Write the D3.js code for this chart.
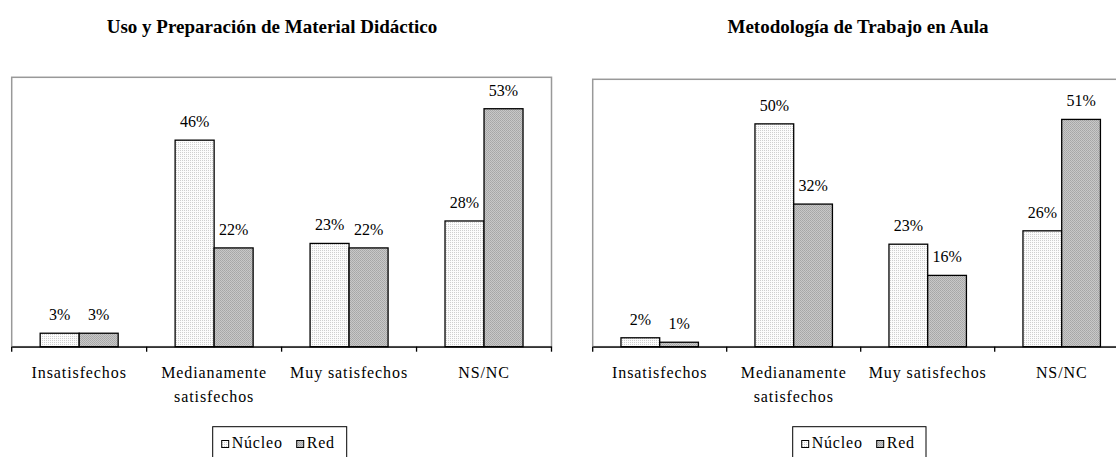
<!DOCTYPE html>
<html><head><meta charset="utf-8">
<script src="https://cdn.jsdelivr.net/npm/d3@7"></script>
<style>
body{margin:0;background:#fff}
svg{display:block}
text{font-family:"Liberation Serif","Times New Roman",serif;fill:#000}
</style>
</head><body>
<svg id="c" width="1116" height="457"></svg>
<script>
// ---- data ----
const categories = ["Insatisfechos", "Medianamente satisfechos", "Muy satisfechos", "NS/NC"];
const categoryLines = [["Insatisfechos"], ["Medianamente", "satisfechos"], ["Muy satisfechos"], ["NS/NC"]];
const seriesNames = ["Núcleo", "Red"];
const chartTitles = ["Uso y Preparación de Material Didáctico", "Metodología de Trabajo en Aula"];
const materialNucleo = [3, 46, 23, 28];
const materialRed = [3, 22, 22, 53];
const metodologiaNucleo = [2, 50, 23, 26];
const metodologiaRed = [1, 32, 16, 51];
const yMax = 60;

const svg = d3.select("#c");
const defs = svg.append("defs");
// dotted light pattern (Núcleo)
const p1 = defs.append("pattern").attr("id","patN").attr("patternUnits","userSpaceOnUse").attr("width",2).attr("height",2);
p1.append("rect").attr("width",2).attr("height",2).attr("fill","#fcfcfc");
p1.append("rect").attr("width",1).attr("height",1).attr("fill","#cfcfcf");
// grey hatch pattern (Red)
const p2 = defs.append("pattern").attr("id","patR").attr("patternUnits","userSpaceOnUse").attr("width",2).attr("height",2);
p2.append("rect").attr("width",2).attr("height",2).attr("fill","#c8c8c8");
p2.append("rect").attr("width",1).attr("height",1).attr("fill","#a6a6a6");
p2.append("rect").attr("x",1).attr("y",1).attr("width",1).attr("height",1).attr("fill","#acacac");
const fills = {"Núcleo":"url(#patN)","Red":"url(#patR)"};

const panels = [
  {title: chartTitles[0], values: [materialNucleo, materialRed], x0: 11.7, x1: 551.5, top: 77.3, base: 346.7, titleX: 272, titleY: 33, legX: 212.7, legW: 134},
  {title: chartTitles[1], values: [metodologiaNucleo, metodologiaRed], x0: 592.7, x1: 1128.7, top: 79.3, base: 346.7, titleX: 858, titleY: 33, legX: 792.7, legW: 133.3}
];

panels.forEach(p => {
  const g = svg.append("g");
  const x = d3.scaleBand().domain(categories).range([p.x0, p.x1]).padding(0);
  const xs = d3.scaleBand().domain(seriesNames).range([0, x.bandwidth()]).paddingInner(0).paddingOuter(0.73);
  const y = d3.scaleLinear().domain([0, yMax]).range([p.base, p.top]);

  // title
  g.append("text").attr("x", p.titleX).attr("y", p.titleY).attr("text-anchor","middle")
    .style("font-size","19px").style("font-weight","bold").text(p.title);

  // frame
  g.append("rect").attr("x", p.x0).attr("y", p.top).attr("width", p.x1 - p.x0).attr("height", p.base - p.top)
    .attr("fill","none").attr("stroke","#999").attr("stroke-width",1.5);

  // bars
  seriesNames.forEach((s, si) => {
    const vals = p.values[si];
    g.selectAll(null).data(categories).enter().append("rect")
      .attr("x", c => x(c) + xs(s))
      .attr("y", (c, i) => y(vals[i]))
      .attr("width", xs.bandwidth())
      .attr("height", (c, i) => y(0) - y(vals[i]))
      .attr("fill", fills[s]).attr("stroke","#000").attr("stroke-width",1.3);
    g.selectAll(null).data(categories).enter().append("text")
      .attr("x", c => x(c) + xs(s) + xs.bandwidth()/2)
      .attr("y", (c, i) => y(vals[i]) - 13)
      .attr("text-anchor","middle").style("font-size","16px")
      .text((c, i) => vals[i] + "%");
  });

  // x axis
  const ax = g.append("g").attr("transform", `translate(0,${p.base})`)
    .call(d3.axisBottom(x).tickSize(0).tickSizeOuter(0));
  ax.attr("font-family", null);
  ax.select(".domain").attr("stroke","#000").attr("stroke-width",1.3);
  ax.selectAll(".tick text").each(function(c) {
    const t = d3.select(this).text(null).attr("y", null).attr("dy", null)
      .style("font-size","16px").style("letter-spacing","0.9px").attr("fill","#000")
      .style("font-family",'"Liberation Serif","Times New Roman",serif');
    categoryLines[categories.indexOf(c)].forEach((ln, li) => {
      t.append("tspan").attr("x", 0).attr("y", 31 + li * 24).text(ln);
    });
  });
  // boundary ticks
  const bounds = categories.map(c => x(c)).concat([p.x1]);
  g.selectAll(null).data(bounds).enter().append("line")
    .attr("x1", d => d).attr("x2", d => d).attr("y1", p.base).attr("y2", p.base + 5)
    .attr("stroke","#000").attr("stroke-width",1.3);

  // legend
  const lg = g.append("g");
  lg.append("rect").attr("x", p.legX).attr("y", 426.7).attr("width", p.legW).attr("height", 40)
    .attr("fill","#fff").attr("stroke","#000").attr("stroke-width",1);
  const legPos = [{sx: p.legX + 9, tx: p.legX + 19}, {sx: p.legX + 84, tx: p.legX + 94}];
  seriesNames.forEach((s, si) => {
    lg.append("rect").attr("x", legPos[si].sx).attr("y", 440.5).attr("width", 7).attr("height", 7)
      .attr("fill", fills[s]).attr("stroke","#000").attr("stroke-width",1);
    lg.append("text").attr("x", legPos[si].tx).attr("y", 447.5).style("font-size","16px")
      .style("letter-spacing","0.8px").text(s);
  });
});
</script>
</body></html>
